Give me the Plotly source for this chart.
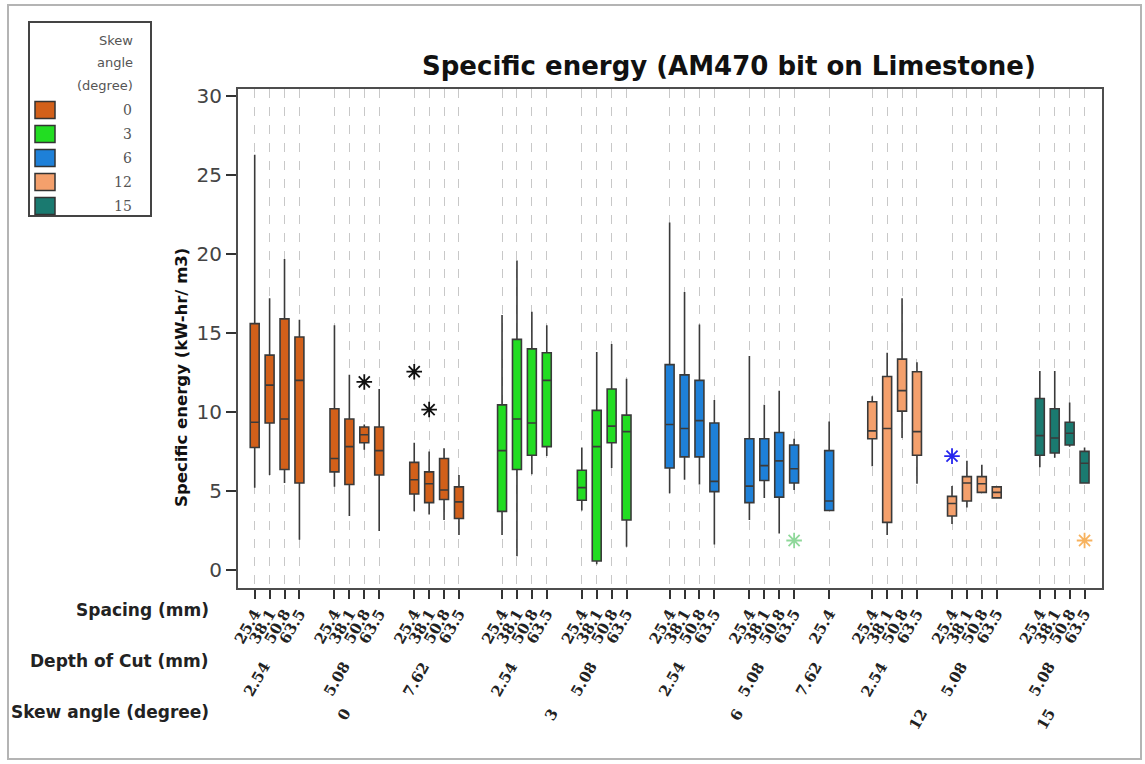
import plotly.graph_objects as go

# ---- data -------------------------------------------------------------
skew_angles = [0, 3, 6, 12, 15]
skew_colors = ["#D2601A", "#22DD22", "#1E80D8", "#F4A06C", "#1A7A70"]

spacing_set = [25.4, 38.1, 50.8, 63.5]

box_skew = [0] * 12 + [3] * 8 + [6] * 9 + [12] * 8 + [15] * 4
box_depth = ([2.54] * 4 + [5.08] * 4 + [7.62] * 4 +
             [2.54] * 4 + [5.08] * 4 +
             [2.54] * 4 + [5.08] * 4 + [7.62] +
             [2.54] * 4 + [5.08] * 4 +
             [5.08] * 4)
box_spacing = spacing_set * 7 + [25.4] + spacing_set * 3

lower = [5.2, 6.0, 5.5, 1.9, 5.25, 3.4, 7.6, 2.45, 3.7, 3.5, 3.15, 2.2,
         2.2, 0.85, 6.05, 7.2, 3.75, 0.35, 6.45, 1.45,
         4.85, 5.7, 5.4, 1.6, 3.15, 4.55, 2.3, 5.05, 3.7,
         6.55, 2.2, 8.35, 5.45, 2.9, 3.95, 4.85, 4.5,
         6.5, 7.1, 7.8, 5.45]
q1 = [7.75, 9.3, 6.35, 5.5, 6.2, 5.4, 8.05, 6.0, 4.8, 4.25, 4.45, 3.25,
      3.7, 6.35, 7.25, 7.8, 4.4, 0.55, 8.05, 3.15,
      6.45, 7.15, 7.15, 4.95, 4.25, 5.65, 4.6, 5.5, 3.75,
      8.3, 3.0, 10.05, 7.25, 3.4, 4.35, 4.9, 4.55,
      7.25, 7.4, 7.9, 5.5]
median = [9.35, 11.7, 9.55, 12.0, 7.05, 7.8, 8.55, 7.55, 5.7, 5.45, 5.05, 4.3,
          7.55, 9.55, 9.3, 12.0, 5.2, 7.8, 9.1, 8.75,
          9.2, 8.95, 9.45, 5.6, 5.3, 6.6, 6.9, 6.4, 4.35,
          8.8, 8.95, 11.35, 8.75, 4.2, 5.5, 5.45, 4.9,
          8.5, 8.35, 8.65, 6.75]
q3 = [15.6, 13.6, 15.9, 14.75, 10.2, 9.55, 9.05, 9.05, 6.8, 6.2, 7.05, 5.25,
      10.45, 14.6, 14.0, 13.75, 6.3, 10.1, 11.45, 9.8,
      13.0, 12.35, 12.0, 9.3, 8.3, 8.3, 8.7, 7.9, 7.55,
      10.65, 12.25, 13.35, 12.55, 4.65, 5.9, 5.9, 5.25,
      10.85, 10.2, 9.35, 7.5]
upper = [26.3, 17.2, 19.7, 15.85, 15.5, 12.35, 9.2, 11.45, 8.05, 7.5, 7.7, 6.0,
         16.15, 19.6, 16.35, 15.5, 7.75, 13.8, 14.3, 12.1,
         22.0, 17.6, 15.55, 10.75, 13.55, 10.45, 11.35, 8.3, 9.4,
         11.0, 13.75, 17.2, 13.15, 5.3, 6.9, 6.65, 5.3,
         12.6, 12.6, 10.6, 7.75]

# outliers: index of the box they belong to, value and symbol colour
outlier_box = [6, 8, 9, 27, 33, 40]
outlier_value = [11.9, 12.55, 10.15, 1.85, 7.2, 1.85]
outlier_color = ["#111111", "#111111", "#111111", "#8FD89A", "#2626EE", "#F7B25E"]

y_ticks = [0, 5, 10, 15, 20, 25, 30]

# ---- layout helpers ---------------------------------------------------
W, H = 1145, 764
ML, MR, MT, MB = 238, 43, 89, 176
PW, PH = W - ML - MR, H - MT - MB


def px(x):
    return (x - ML) / PW


def py(y):
    return (H - MB - y) / PH


# x positions: unit step inside a depth group, wider gaps between groups
STEP, DEPTH_GAP, SKEW_GAP = 1.0, 2.35, 2.89
xpos = []
p = 0.0
for i in range(len(box_skew)):
    if i > 0:
        if box_skew[i] != box_skew[i - 1]:
            p += SKEW_GAP
        elif box_depth[i] != box_depth[i - 1]:
            p += DEPTH_GAP
        else:
            p += STEP
    xpos.append(p)

fig = go.Figure()

LINE = "#3a3a3a"
for s, c in zip(skew_angles, skew_colors):
    idx = [i for i, k in enumerate(box_skew) if k == s]
    fig.add_trace(go.Box(
        x=[xpos[i] for i in idx],
        q1=[q1[i] for i in idx],
        median=[median[i] for i in idx],
        q3=[q3[i] for i in idx],
        lowerfence=[lower[i] for i in idx],
        upperfence=[upper[i] for i in idx],
        boxpoints=False,
        width=0.6,
        whiskerwidth=0,
        fillcolor=c,
        line=dict(color=LINE, width=1.6),
        name=str(s),
        showlegend=False,
    ))

fig.add_trace(go.Scatter(
    x=[xpos[i] for i in outlier_box],
    y=outlier_value,
    mode="markers",
    marker=dict(symbol="asterisk-open", size=13, color=outlier_color,
                line=dict(color=outlier_color, width=1.8)),
    showlegend=False,
))

annotations = []
shapes = []

# depth and skew labels under the axis
groups = []
for i in range(len(box_skew)):
    key = (box_skew[i], box_depth[i])
    if not groups or groups[-1][0] != key:
        groups.append([key, []])
    groups[-1][1].append(xpos[i])

serif_bold = dict(family="DejaVu Serif", size=15, color="#222222", weight="bold")
for (s, d), xs in groups:
    annotations.append(dict(
        x=sum(xs) / len(xs), xref="x", y=py(656), yref="paper",
        text=f"{d:.2f}", textangle=-60, showarrow=False,
        xanchor="right", yanchor="top", font=serif_bold))

for s in skew_angles:
    xs = [xpos[i] for i, k in enumerate(box_skew) if k == s]
    annotations.append(dict(
        x=(xs[0] + xs[-1]) / 2, xref="x", y=py(703), yref="paper",
        text=str(s), textangle=-60, showarrow=False,
        xanchor="right", yanchor="top", font=serif_bold))

row_font = dict(family="DejaVu Sans", size=17, color="#222222", weight="bold")
for text, yy in [("Spacing (mm)", 610), ("Depth of Cut (mm)", 661),
                 ("Skew angle (degree)", 712)]:
    annotations.append(dict(
        x=px(211), xref="paper", y=py(yy), yref="paper", text=text,
        showarrow=False, xanchor="right", yanchor="middle", font=row_font))

# title and y axis title
annotations.append(dict(
    x=px(729), xref="paper", y=py(66), yref="paper",
    text="Specific energy (AM470 bit on Limestone)", showarrow=False,
    xanchor="center", yanchor="middle",
    font=dict(family="DejaVu Sans", size=26, color="#111111", weight="bold")))
annotations.append(dict(
    x=px(181), xref="paper", y=py(378), yref="paper",
    text="Specific energy (kW-hr/ m3)", textangle=-90, showarrow=False,
    xanchor="center", yanchor="middle",
    font=dict(family="DejaVu Sans", size=16.5, color="#111111", weight="bold")))

# legend box
shapes.append(dict(type="rect", xref="paper", yref="paper",
                   x0=px(29), x1=px(151), y0=py(216), y1=py(22),
                   line=dict(color="#444444", width=2), fillcolor="white"))
for text, yy in [("Skew", 40), ("angle", 62), ("(degree)", 85)]:
    annotations.append(dict(
        x=px(135), xref="paper", y=py(yy), yref="paper", text=text,
        showarrow=False, xanchor="right", yanchor="middle",
        font=dict(family="DejaVu Sans", size=13, color="#555555")))
for k, (s, c) in enumerate(zip(skew_angles, skew_colors)):
    yc = 110 + 24 * k
    shapes.append(dict(type="rect", xref="paper", yref="paper",
                       x0=px(35), x1=px(55), y0=py(yc + 8.5), y1=py(yc - 8.5),
                       line=dict(color="#333333", width=1.5), fillcolor=c))
    annotations.append(dict(
        x=px(134), xref="paper", y=py(yc), yref="paper", text=str(s),
        showarrow=False, xanchor="right", yanchor="middle",
        font=dict(family="DejaVu Serif", size=14, color="#555555")))

# outer frame
shapes.append(dict(type="rect", xref="paper", yref="paper",
                   x0=px(8), x1=px(1141), y0=py(759), y1=py(5),
                   line=dict(color="#b4b4b4", width=2), layer="below"))

fig.update_layout(
    width=W, height=H,
    margin=dict(l=ML, r=MR, t=MT, b=MB),
    paper_bgcolor="white", plot_bgcolor="white",
    boxmode="overlay",
    annotations=annotations,
    shapes=shapes,
    xaxis=dict(
        range=[-1.12, xpos[-1] + 1.17],
        tickmode="array", tickvals=xpos,
        ticktext=[f"{v:.1f}" for v in box_spacing],
        tickangle=-60, ticks="outside", ticklen=9, tickwidth=1.5,
        tickcolor="#333333",
        tickfont=dict(family="DejaVu Serif", size=15, color="#222222",
                      weight="bold"),
        showgrid=True, gridcolor="#C8C8C8", griddash="dash", gridwidth=1,
        zeroline=False, showline=True, mirror=True,
        linecolor="#4d4d4d", linewidth=2,
    ),
    yaxis=dict(
        range=[-1.16, 30.47],
        tickmode="array", tickvals=y_ticks,
        ticks="outside", ticklen=10, tickwidth=1.5, tickcolor="#333333",
        tickfont=dict(family="DejaVu Sans", size=20, color="#444444"),
        showgrid=False, zeroline=False, showline=True, mirror=True,
        linecolor="#4d4d4d", linewidth=2,
    ),
)

fig.write_html("out.html")
